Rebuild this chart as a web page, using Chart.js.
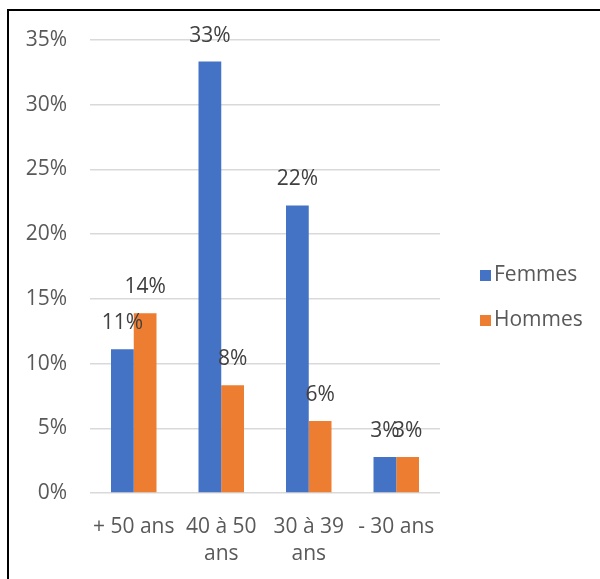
<!DOCTYPE html>
<html>
<head>
<meta charset="utf-8">
<script src="https://cdn.jsdelivr.net/npm/chart.js@4/dist/chart.umd.min.js"></script>
<style>
  body { margin: 0; background: #fff; }
  #wrap { position: relative; width: 600px; height: 579px; }
  #frame { position: absolute; left: 7px; top: 9px; right: -5px; bottom: -5px;
           border-left: 2.5px solid #000; border-top: 2.5px solid #000; pointer-events: none; }
</style>
</head>
<body>
<div id="wrap">
  <canvas id="chart" width="600" height="579"></canvas>
  <div id="frame"></div>
</div>
<script>
// Age groups
const categories = ['+ 50 ans', ['40 à 50', 'ans'], ['30 à 39', 'ans'], '- 30 ans'];
const femmes = [11.11, 33.33, 22.22, 2.78];
const hommes = [13.89, 8.33, 5.56, 2.78];
const yTicks = [0, 5, 10, 15, 20, 25, 30, 35];

const FONT = '"Open Sans", sans-serif';

// value labels above each bar
const barLabels = {
  id: 'barLabels',
  afterDatasetsDraw(chart) {
    const ctx = chart.ctx;
    ctx.save();
    ctx.font = '21px ' + FONT;
    ctx.fillStyle = '#404040';
    ctx.textAlign = 'center';
    ctx.textBaseline = 'middle';
    chart.data.datasets.forEach((ds, i) => {
      chart.getDatasetMeta(i).data.forEach((bar, j) => {
        ctx.fillText(Math.round(ds.data[j]) + '%', bar.x, bar.y - 26);
      });
    });
    ctx.restore();
  }
};

// legend on the right, like the Excel one
const sideLegend = {
  id: 'sideLegend',
  afterDraw(chart) {
    const ctx = chart.ctx;
    ctx.save();
    ctx.font = '21px ' + FONT;
    ctx.textBaseline = 'middle';
    chart.data.datasets.forEach((ds, i) => {
      const y = 275 + i * 45;
      ctx.fillStyle = ds.backgroundColor;
      ctx.fillRect(480, y - 5, 11, 11);
      ctx.fillStyle = '#595959';
      ctx.fillText(ds.label, 494, y);
    });
    ctx.restore();
  }
};

new Chart(document.getElementById('chart'), {
  type: 'bar',
  data: {
    labels: categories,
    datasets: [
      { label: 'Femmes', data: femmes, backgroundColor: '#4472C4' },
      { label: 'Hommes', data: hommes, backgroundColor: '#ED7D31' }
    ]
  },
  options: {
    responsive: false,
    animation: false,
    events: [],
    barPercentage: 1,
    categoryPercentage: 0.52,
    layout: { padding: { top: 40, right: 160, bottom: 0, left: 0 } },
    plugins: { legend: { display: false }, tooltip: { enabled: false } },
    scales: {
      x: {
        grid: { display: false },
        border: { display: false },
        ticks: { color: '#595959', font: { family: FONT, size: 21, lineHeight: 1.3 }, padding: 12, maxRotation: 0, autoSkip: false },
        afterFit(scale) { scale.height = 86; }
      },
      y: {
        min: 0,
        max: 35,
        afterBuildTicks(scale) { scale.ticks = yTicks.map(v => ({ value: v })); },
        grid: { color: '#d9d9d9', lineWidth: 1.5, drawTicks: false },
        border: { display: false },
        ticks: { color: '#595959', font: { family: FONT, size: 21 }, padding: 23, callback: v => v + '%' },
        afterFit(scale) { scale.width = 90; }
      }
    }
  },
  plugins: [barLabels, sideLegend]
});
</script>
</body>
</html>
